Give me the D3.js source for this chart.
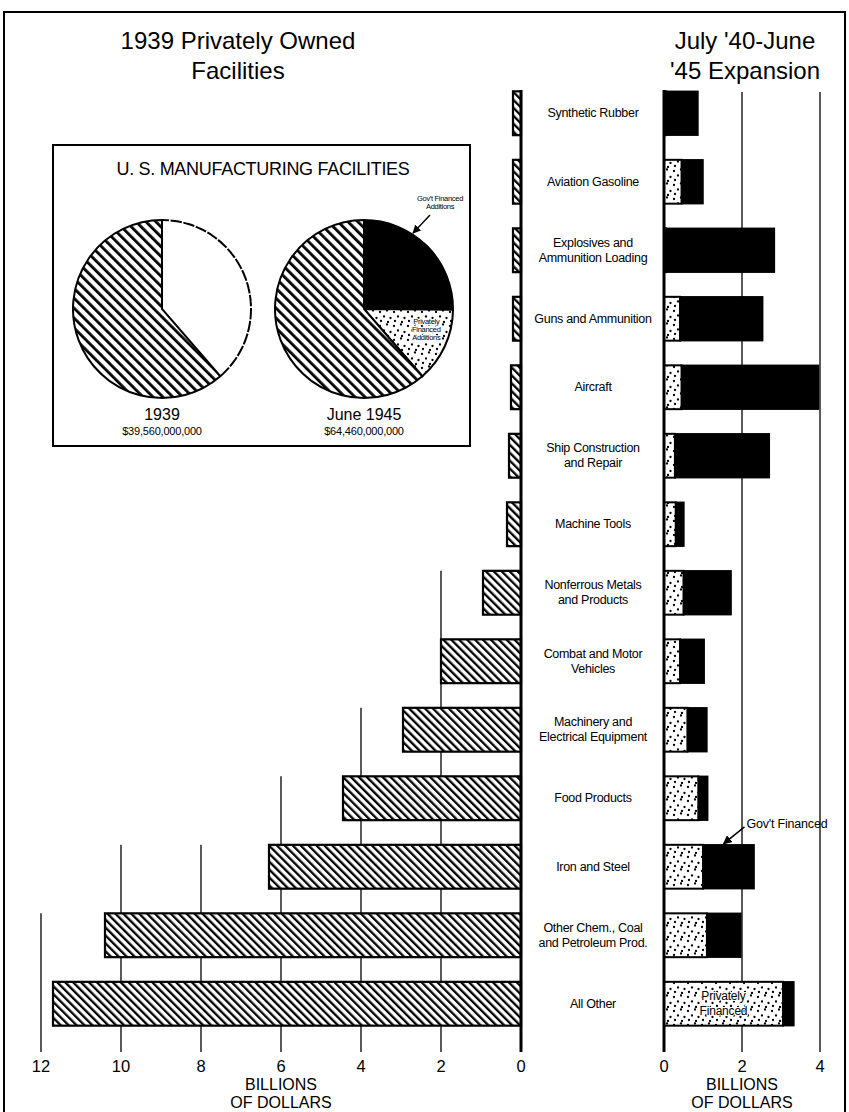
<!DOCTYPE html>
<html lang="en">
<head>
<meta charset="UTF-8">
<title>U.S. Manufacturing Facilities</title>
<style>
  body { margin: 0; background: #fff; }
  svg { display: block; font-family: "Liberation Sans", Arial, Helvetica, sans-serif; }
</style>
</head>
<body>
<div id="chart"></div>
<script src="https://cdn.jsdelivr.net/npm/d3@7"></script>
<script>
// categories, top to bottom
const categories = [
  "Synthetic Rubber", "Aviation Gasoline", "Explosives and\nAmmunition Loading",
  "Guns and Ammunition", "Aircraft", "Ship Construction\nand Repair", "Machine Tools",
  "Nonferrous Metals\nand Products", "Combat and Motor\nVehicles",
  "Machinery and\nElectrical Equipment", "Food Products", "Iron and Steel",
  "Other Chem., Coal\nand Petroleum Prod.", "All Other"
];
// 1939 privately owned facilities, billions
const owned1939 = [0.2, 0.2, 0.2, 0.2, 0.25, 0.3, 0.35, 0.95, 2.0, 2.95, 4.45, 6.3, 10.4, 11.7];
// July '40 - June '45 expansion, billions
const privateExp = [0.05, 0.45, 0.05, 0.41, 0.45, 0.28, 0.3, 0.5, 0.41, 0.6, 0.88, 1.0, 1.1, 3.05];
const govExp = [0.82, 0.55, 2.78, 2.12, 3.51, 2.42, 0.21, 1.22, 0.62, 0.5, 0.24, 1.31, 0.87, 0.28];

const leftTicks = [0, 2, 4, 6, 8, 10, 12];
const rightTicks = [0, 2, 4];

// inset pies (billions): gov't additions, private additions, 1939 facilities
const pieNames = ["Gov't Financed Additions", "Privately Financed Additions", "1939 Facilities"];
const pieValues = [16.2, 8.7, 39.56];
const pieYears = ["1939", "June 1945"];
const pieTotals = ["$39,560,000,000", "$64,460,000,000"];

const W = 849, H = 1112;
const svg = d3.select("#chart").append("svg").attr("width", W).attr("height", H);
const defs = svg.append("defs");

// diagonal hatch (bars and pie)
function addHatch(id, size, stripe) {
  const p = defs.append("pattern")
    .attr("id", id).attr("patternUnits", "userSpaceOnUse")
    .attr("width", size).attr("height", size)
    .attr("patternTransform", "rotate(-45)");
  p.append("rect").attr("width", size).attr("height", size).attr("fill", "#fff");
  p.append("rect").attr("width", stripe).attr("height", size).attr("fill", "#000");
}
addHatch("hatch", 5.6, 2.3);
addHatch("hatchPie", 7, 2.8);

// sparse dots
const dots = defs.append("pattern")
  .attr("id", "dots").attr("patternUnits", "userSpaceOnUse")
  .attr("width", 14).attr("height", 14);
dots.append("rect").attr("width", 14).attr("height", 14).attr("fill", "#fff");
[[2, 3], [9, 1.5], [6, 7.5], [12.5, 9], [3, 12], [10, 13]].forEach(p => {
  dots.append("circle").attr("cx", p[0]).attr("cy", p[1]).attr("r", 1.15).attr("fill", "#000");
});

defs.append("marker")
  .attr("id", "arrow").attr("viewBox", "0 0 10 10")
  .attr("refX", 9).attr("refY", 5)
  .attr("markerWidth", 6).attr("markerHeight", 6)
  .attr("orient", "auto")
  .append("path").attr("d", "M0,0 L10,5 L0,10 z").attr("fill", "#000");

// outer frame
svg.append("rect")
  .attr("x", 4).attr("y", 12).attr("width", 841).attr("height", H + 10)
  .attr("fill", "none").attr("stroke", "#000").attr("stroke-width", 2);

// scales
const xL = d3.scaleLinear().domain([0, 12]).range([521, 41]);
const xR = d3.scaleLinear().domain([0, 4]).range([664, 820]);
const y = d3.scaleBand().domain(categories).range([79, 1038])
  .paddingInner(0.36).paddingOuter(0.18);
const axisTop = 90, axisBottom = 1052;

// titles
const titles = [
  { x: 238, lines: ["1939 Privately Owned", "Facilities"] },
  { x: 745, lines: ["July '40-June", "'45 Expansion"] }
];
titles.forEach(t => {
  svg.append("text")
    .attr("x", t.x).attr("y", 49)
    .attr("text-anchor", "middle").attr("font-size", 24)
    .selectAll("tspan").data(t.lines).enter().append("tspan")
    .attr("x", t.x).attr("dy", (d, i) => i ? 30 : 0)
    .text(d => d);
});

// left gridlines: start a row above the first bar reaching them
leftTicks.slice(1).forEach(v => {
  let idx = owned1939.findIndex(d => d >= v - 0.5);
  if (idx < 1) idx = categories.length;
  const top = y(categories[idx - 1]);
  svg.append("line")
    .attr("x1", xL(v)).attr("x2", xL(v))
    .attr("y1", top).attr("y2", axisBottom)
    .attr("stroke", "#000").attr("stroke-width", 1.3);
});
rightTicks.slice(1).forEach(v => {
  svg.append("line")
    .attr("x1", xR(v)).attr("x2", xR(v))
    .attr("y1", axisTop + 2).attr("y2", axisBottom)
    .attr("stroke", "#000").attr("stroke-width", 1.3);
});

// left bars
svg.append("g").selectAll("rect")
  .data(categories).enter().append("rect")
  .attr("x", (d, i) => xL(owned1939[i]))
  .attr("y", d => y(d))
  .attr("width", (d, i) => xL(0) - xL(owned1939[i]))
  .attr("height", y.bandwidth())
  .attr("fill", "url(#hatch)")
  .attr("stroke", "#000").attr("stroke-width", 2.2);

// right bars: privately financed + gov't financed
const rb = svg.append("g");
rb.selectAll(".gov")
  .data(categories).enter().append("rect")
  .attr("class", "gov")
  .attr("x", (d, i) => xR(privateExp[i]))
  .attr("y", d => y(d))
  .attr("width", (d, i) => xR(privateExp[i] + govExp[i]) - xR(privateExp[i]))
  .attr("height", y.bandwidth())
  .attr("fill", "#000").attr("stroke", "#000").attr("stroke-width", 1.5);
rb.selectAll(".priv")
  .data(categories).enter().append("rect")
  .attr("class", "priv")
  .attr("x", xR(0))
  .attr("y", d => y(d))
  .attr("width", (d, i) => xR(privateExp[i]) - xR(0))
  .attr("height", y.bandwidth())
  .attr("fill", "url(#dots)")
  .attr("stroke", "#000").attr("stroke-width", 2);

// zero axes
[xL(0), xR(0)].forEach(x => {
  svg.append("line")
    .attr("x1", x).attr("x2", x)
    .attr("y1", axisTop).attr("y2", axisBottom)
    .attr("stroke", "#000").attr("stroke-width", 3);
});

// category labels
const labels = svg.append("g")
  .attr("font-size", 12.5).attr("text-anchor", "middle").attr("letter-spacing", -0.3);
categories.forEach(c => {
  const lines = c.split("\n");
  const cy = y(c) + y.bandwidth() / 2;
  labels.append("text")
    .attr("y", cy - (lines.length - 1) * 7.5 + 4)
    .selectAll("tspan").data(lines).enter().append("tspan")
    .attr("x", 593).attr("dy", (d, i) => i ? 15 : 0)
    .text(d => d);
});

// tick labels
svg.append("g").selectAll("text").data(leftTicks).enter().append("text")
  .attr("x", d => xL(d)).attr("y", 1072)
  .attr("text-anchor", "middle").attr("font-size", 16.5)
  .text(d => d);
svg.append("g").selectAll("text").data(rightTicks).enter().append("text")
  .attr("x", d => xR(d)).attr("y", 1072)
  .attr("text-anchor", "middle").attr("font-size", 16.5)
  .text(d => d);

// axis titles
[xL(6), xR(2)].forEach(x => {
  svg.append("text")
    .attr("x", x).attr("y", 1090)
    .attr("text-anchor", "middle").attr("font-size", 16)
    .selectAll("tspan").data(["BILLIONS", "OF DOLLARS"]).enter().append("tspan")
    .attr("x", x).attr("dy", (d, i) => i ? 18 : 0)
    .text(d => d);
});

// annotations on the right bars
const iron = categories.indexOf("Iron and Steel");
const tipX = xR(privateExp[iron] + 0.5), tipY = y(categories[iron]);
svg.append("line")
  .attr("x1", tipX + 22).attr("y1", tipY - 18)
  .attr("x2", tipX + 1).attr("y2", tipY - 1)
  .attr("stroke", "#000").attr("stroke-width", 1.5)
  .attr("marker-end", "url(#arrow)");
svg.append("text")
  .attr("x", tipX + 24).attr("y", tipY - 17)
  .attr("font-size", 12.5).attr("letter-spacing", -0.2)
  .text("Gov't Financed");

const last = categories.length - 1;
const pcx = (xR(0) + xR(privateExp[last])) / 2;
const pcy = y(categories[last]) + y.bandwidth() / 2;
svg.append("text")
  .attr("x", pcx).attr("y", pcy - 4)
  .attr("text-anchor", "middle").attr("font-size", 12).attr("letter-spacing", -0.2)
  .selectAll("tspan").data(["Privately", "Financed"]).enter().append("tspan")
  .attr("x", pcx).attr("dy", (d, i) => i ? 15 : 0)
  .style("paint-order", "stroke").attr("stroke", "#fff").attr("stroke-width", 2)
  .text(d => d);

// ---- inset: U.S. manufacturing facilities ----
const inset = svg.append("g");
inset.append("rect")
  .attr("x", 53).attr("y", 145).attr("width", 417).attr("height", 301)
  .attr("fill", "#fff").attr("stroke", "#000").attr("stroke-width", 2);
inset.append("text")
  .attr("x", 263).attr("y", 175)
  .attr("text-anchor", "middle").attr("font-size", 18).attr("letter-spacing", -0.3)
  .text("U. S. MANUFACTURING FACILITIES");

const R = 89, pieY = 309;
const pieX = [162, 364];
const arcs = d3.pie().sort(null)(pieValues);
const arc = d3.arc().innerRadius(0).outerRadius(R);
const fills = ["#000", "url(#dots)", "url(#hatchPie)"];

// 1939: only the existing facilities, rest dashed
const p1 = inset.append("g").attr("transform", `translate(${pieX[0]},${pieY})`);
p1.append("path").attr("d", arc(arcs[2]))
  .attr("fill", "url(#hatchPie)").attr("stroke", "#000").attr("stroke-width", 2);
p1.append("path")
  .attr("d", d3.arc().innerRadius(R).outerRadius(R)({ startAngle: 0, endAngle: arcs[2].startAngle }))
  .attr("fill", "none").attr("stroke", "#000").attr("stroke-width", 2)
  .attr("stroke-dasharray", "7,6");

// June 1945
const p2 = inset.append("g").attr("transform", `translate(${pieX[1]},${pieY})`);
p2.selectAll("path").data(arcs).enter().append("path")
  .attr("d", arc)
  .attr("fill", (d, i) => fills[i])
  .attr("stroke", "#000").attr("stroke-width", 2);

// slice labels
const govA = 0.57;
const ax = Math.sin(govA) * R, ay = -Math.cos(govA) * R;
p2.append("line")
  .attr("x1", ax + 18).attr("y1", ay - 19)
  .attr("x2", ax + 1).attr("y2", ay - 1)
  .attr("stroke", "#000").attr("stroke-width", 1.4)
  .attr("marker-end", "url(#arrow)");
p2.append("text")
  .attr("x", ax + 28).attr("y", ay - 33)
  .attr("text-anchor", "middle").attr("font-size", 7.5).attr("letter-spacing", -0.3)
  .selectAll("tspan").data(["Gov't Financed", "Additions"]).enter().append("tspan")
  .attr("x", ax + 28).attr("dy", (d, i) => i ? 8 : 0)
  .text(d => d);

const prA = 1.9;
const px = Math.sin(prA) * R * 0.74, py = -Math.cos(prA) * R * 0.74;
p2.append("text")
  .attr("x", px).attr("y", py - 6)
  .attr("text-anchor", "middle").attr("font-size", 7.5).attr("letter-spacing", -0.3)
  .selectAll("tspan").data(["Privately", "Financed", "Additions"]).enter().append("tspan")
  .attr("x", px).attr("dy", (d, i) => i ? 8 : 0)
  .style("paint-order", "stroke").attr("stroke", "#fff").attr("stroke-width", 2)
  .text(d => d);

pieX.forEach((x, i) => {
  inset.append("text")
    .attr("x", x).attr("y", pieY + R + 22)
    .attr("text-anchor", "middle").attr("font-size", 16)
    .text(pieYears[i]);
  inset.append("text")
    .attr("x", x).attr("y", pieY + R + 37)
    .attr("text-anchor", "middle").attr("font-size", 11).attr("letter-spacing", -0.2)
    .text(pieTotals[i]);
});
</script>
</body>
</html>
